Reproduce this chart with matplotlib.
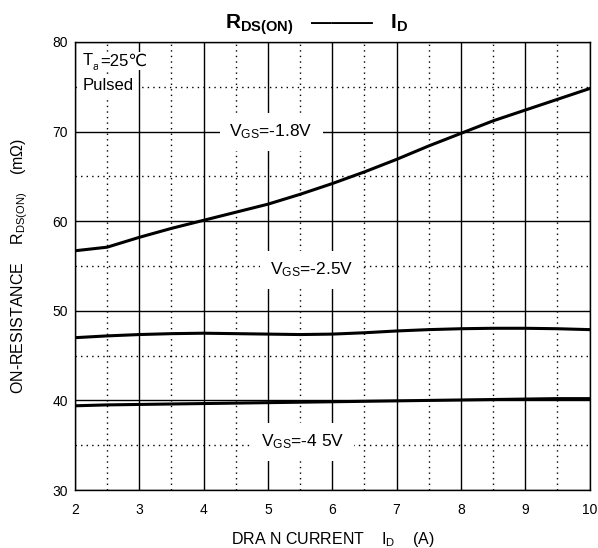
import numpy as np
import matplotlib
matplotlib.use("Agg")
import matplotlib.pyplot as plt

plt.rcParams['font.family'] = ['Liberation Sans', 'DejaVu Sans']
plt.rcParams['mathtext.fontset'] = 'custom'
plt.rcParams['mathtext.rm'] = 'Liberation Sans'
plt.rcParams['mathtext.it'] = 'Liberation Sans'
plt.rcParams['mathtext.bf'] = 'Liberation Sans:bold'

# drain current (A)
current = [2, 2.5, 3, 3.5, 4, 4.5, 5, 5.5, 6, 6.5, 7, 7.5, 8, 8.5, 9, 9.5, 10]
# on-resistance (mOhm)
r_18 = [56.7, 57.1, 58.2, 59.2, 60.1, 61.0, 61.9, 63.0, 64.2, 65.5, 66.9, 68.4, 69.8, 71.2, 72.4, 73.6, 74.8]
r_25 = [47.0, 47.2, 47.35, 47.45, 47.5, 47.45, 47.4, 47.35, 47.4, 47.55, 47.75, 47.9, 48.0, 48.05, 48.05, 48.0, 47.9]
r_45 = [39.4, 39.5, 39.55, 39.6, 39.65, 39.7, 39.75, 39.8, 39.85, 39.9, 39.95, 40.0, 40.05, 40.1, 40.15, 40.2, 40.2]

fig = plt.figure(figsize=(5.98, 5.48), dpi=100)
ax = fig.add_axes([0.1254, 0.1058, 0.8605, 0.8176])

ax.set_xlim(2, 10)
ax.set_ylim(30, 80)
ax.set_xticks(range(2, 11))
ax.set_yticks(range(30, 81, 10))
ax.set_xticks(np.arange(2.5, 10, 1), minor=True)
ax.set_yticks(np.arange(35, 80, 10), minor=True)
ax.tick_params(which='both', length=0, labelsize=10)
ax.tick_params(axis='x', pad=9)
ax.tick_params(axis='y', pad=5)
ax.grid(True, which='major', color='black', linewidth=1.0)
ax.grid(True, which='minor', color='black', linestyle=(0, (1, 3)), linewidth=1.0)
for s in ax.spines.values():
    s.set_linewidth(1.0)

for r in (r_18, r_25, r_45):
    ax.plot(current, r, color='black', linewidth=2.2)

box = dict(facecolor='white', edgecolor='none', pad=7)
ax.text(5.05, 70.0, r'V$_\mathregular{GS}$=-1.8V', ha='center', va='center', fontsize=12.5, bbox=box)
ax.text(5.68, 54.6, r'V$_\mathregular{GS}$=-2.5V', ha='center', va='center', fontsize=12.5, bbox=box)
ax.text(5.54, 35.4, r'V$_\mathregular{GS}$=-4 5V', ha='center', va='center', fontsize=12.5, bbox=box)

small = dict(facecolor='white', edgecolor='none', pad=1)
t1 = ax.text(2.12, 77.9, 'T', ha='left', va='center', fontsize=12, bbox=small)
t2 = ax.annotate('a', xy=(1, 0.1), xycoords=t1, ha='left', va='center', fontsize=8,
                 bbox=small)
ax.annotate('=25℃', xy=(1, 0.5), xycoords=t1, xytext=(5, 0), textcoords='offset points',
            ha='left', va='center', fontsize=12, bbox=small)
ax.text(2.12, 75.1, 'Pulsed', ha='left', va='center', fontsize=12,
        bbox=dict(facecolor='white', edgecolor='none', pad=3))

fig.text(0.53, 0.955, r'$\mathbf{R_{DS(ON)}}$   ———   $\mathbf{I_D}$', ha='center', va='center',
         fontsize=15, fontweight='bold')
ax.set_xlabel(r'DRA N CURRENT    I$_\mathregular{D}$    (A)', fontsize=11.5, labelpad=10)
ax.set_ylabel(r'ON-RESISTANCE    R$_\mathregular{DS(ON)}$    (mΩ)', fontsize=11.5, labelpad=16)

fig.savefig('out.png', dpi=100)
